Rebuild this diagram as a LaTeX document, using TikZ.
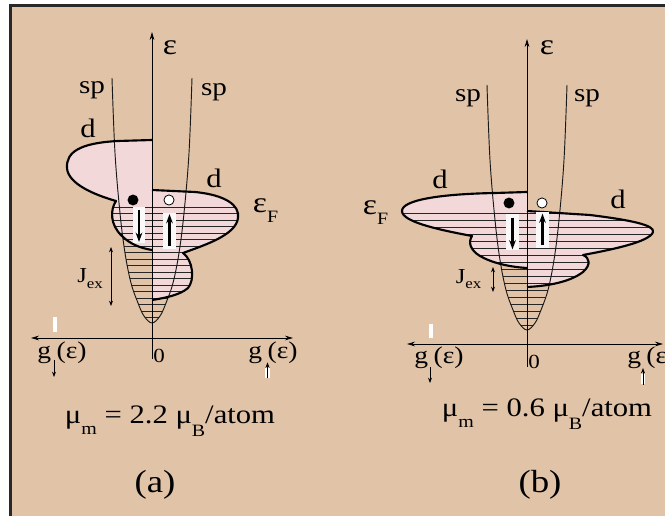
\documentclass[tikz,border=0pt]{standalone}
\usepackage{fontspec}
\setmainfont{Liberation Serif}[FakeStretch=1.15]
\usetikzlibrary{arrows.meta}
\definecolor{bgtan}{RGB}{225,195,168}
\definecolor{dpink}{RGB}{242,216,217}
\definecolor{framegray}{RGB}{40,40,40}

% sp band, relative to its bottom point
\newcommand{\spcurve}{plot[smooth, tension=0.6] coordinates {(-40,-245) (-37,-170) (-32,-110) (-27,-70) (-21,-40) (-14,-20) (-8,-7) (0,0) (8,-7) (14,-20) (21,-40) (27,-70) (32,-110) (37,-170) (40,-245)}}
% d bands: from the axis out and back to the axis
\newcommand{\dbandAdn}{(152,140) -- (118,141) .. controls (80,143) and (66,152) .. (67,168) .. controls (68,184) and (95,195) .. (116,201) .. controls (110,210) and (110,225) .. (122,236) .. controls (130,244) and (140,248) .. (152,250)}
\newcommand{\dbandAup}{(152,190) -- (195,192) .. controls (225,195) and (240,205) .. (238,218) .. controls (236,235) and (205,245) .. (183,253) .. controls (193,260) and (195,280) .. (188,288) .. controls (180,295) and (165,298) .. (152,300)}
\newcommand{\dbandBdn}{(527,192) -- (495,193) .. controls (440,194) and (402,200) .. (402,211) .. controls (402,222) and (440,230) .. (472,236) .. controls (468,242) and (470,250) .. (480,256) .. controls (492,263) and (510,267) .. (527,268)}
\newcommand{\dbandBup}{(527,211) -- (590,215) .. controls (630,220) and (655,225) .. (653,232) .. controls (650,242) and (610,250) .. (583,255) .. controls (590,258) and (591,265) .. (583,272) .. controls (570,282) and (548,286) .. (527,287)}

\begin{document}
\begin{tikzpicture}[x=0.75pt, y=-0.75pt,
    lbl/.style={inner sep=0pt, font=\fontsize{19}{19}\selectfont},
    band/.style={line width=1.6pt, line join=round},
    hatch/.style={line width=0.55pt, black!85},
    spline/.style={line width=0.7pt, black!90},
    axis/.style={line width=0.7pt, -{Stealth[length=6pt, width=3.5pt]}},
    gaxis/.style={line width=0.7pt, {Stealth[length=6pt, width=3.5pt]}-{Stealth[length=6pt, width=3.5pt]}},
    jarr/.style={line width=0.6pt, {Stealth[length=4pt, width=3pt]}-{Stealth[length=4pt, width=3pt]}},
    garr/.style={line width=0.6pt, -{Stealth[length=4pt, width=3pt]}},
    spin/.style={line width=1.6pt, -{Stealth[length=7pt, width=5pt]}, shorten <=2.5pt, shorten >=1pt},
    wbox/.style={fill=white!95!gray, inner sep=0pt, minimum width=9.5pt, minimum height=27pt},
    wmark/.style={fill=white, inner sep=0pt, minimum width=3pt, minimum height=11pt}]
  \useasboundingbox (0,0) rectangle (665,516);
  \clip (0,0) rectangle (665,516);
  \fill[white] (0,0) rectangle (665,516);
  \fill[bgtan] (10,5) rectangle (665,516);
  \draw[framegray, line width=2.25pt] (10.5,516) -- (10.5,5.5) -- (665,5.5);

  % (a) bands
  \fill[dpink] \dbandAdn -- cycle;
  \fill[dpink] \dbandAup -- cycle;
  \begin{scope}
    \clip \dbandAdn -- cycle;
    \foreach \y in {207,213.5,...,320} \draw[hatch] (40,\y) -- (260,\y);
  \end{scope}
  \begin{scope}
    \clip \dbandAup -- cycle;
    \foreach \y in {207,213.5,...,320} \draw[hatch] (40,\y) -- (260,\y);
  \end{scope}
  \begin{scope}[shift={(152,323)}]
    \begin{scope}
      \clip \spcurve -- cycle;
      \foreach \y in {-116,-109.5,...,-3} \draw[hatch] (-100,\y) -- (100,\y);
    \end{scope}
    \draw[spline] \spcurve;
  \end{scope}
  \draw[band] \dbandAdn;
  \draw[band] \dbandAup;

  % (b) bands
  \fill[dpink] \dbandBdn -- cycle;
  \fill[dpink] \dbandBup -- cycle;
  \begin{scope}
    \clip \dbandBdn -- cycle;
    \foreach \y in {213,220,...,327} \draw[hatch] (390,\y) -- (665,\y);
  \end{scope}
  \begin{scope}
    \clip \dbandBup -- cycle;
    \foreach \y in {213,220,...,327} \draw[hatch] (390,\y) -- (665,\y);
  \end{scope}
  \begin{scope}[shift={(527,330)}]
    \begin{scope}
      \clip \spcurve -- cycle;
      \foreach \y in {-117,-110,...,-3} \draw[hatch] (-100,\y) -- (100,\y);
    \end{scope}
    \draw[spline] \spcurve;
  \end{scope}
  \draw[band] \dbandBdn;
  \draw[band] \dbandBup;

  % axes
  \coordinate (aBot) at (152,359);
  \coordinate (aTop) at (152,32);
  \coordinate (aL) at (31,338);
  \coordinate (aR) at (293,338);
  \draw[axis] (aBot) -- (aTop);
  \draw[gaxis] (aL) -- (aR);
  \coordinate (bBot) at (527,367);
  \coordinate (bTop) at (527,39);
  \coordinate (bL) at (407,344);
  \coordinate (bR) at (663,344);
  \draw[axis] (bBot) -- (bTop);
  \draw[gaxis] (bL) -- (bR);

  % (a) spins
  \node[circle, fill=black, inner sep=0pt, minimum size=8.2pt] (aElec) at (133,200) {};
  \node[circle, draw, fill=white, line width=0.6pt, inner sep=0pt, minimum size=7.6pt] (aHole) at (169,200) {};
  \node[wbox] (aDnBox) at (139,225) {};
  \node[wbox] (aUpBox) at (169.5,231) {};
  \draw[spin] (aDnBox.north) -- (aDnBox.south);
  \draw[spin] (aUpBox.south) -- (aUpBox.north);
  \coordinate (aJtop) at (111,247);
  \coordinate (aJbot) at (111,306);
  \draw[jarr] (aJtop) -- (aJbot);

  % (b) spins
  \node[circle, fill=black, inner sep=0pt, minimum size=8.2pt] (bElec) at (509,203) {};
  \node[circle, draw, fill=white, line width=0.6pt, inner sep=0pt, minimum size=7.6pt] (bHole) at (542,203) {};
  \node[wbox] (bDnBox) at (512.5,232.5) {};
  \node[wbox] (bUpBox) at (542.5,230.5) {};
  \draw[spin] (bDnBox.north) -- (bDnBox.south);
  \draw[spin] (bUpBox.south) -- (bUpBox.north);
  \coordinate (bJtop) at (493,267);
  \coordinate (bJbot) at (493,292);
  \draw[jarr] (bJtop) -- (bJbot);

  % (a) labels
  \node[lbl, font=\fontsize{22}{22}\selectfont] (aEps) at (170,48) {ε};
  \node[lbl] (aSpL) at (92,90) {sp};
  \node[lbl] (aSpR) at (214,92) {sp};
  \node[lbl, font=\fontsize{20}{20}\selectfont] (aDL) at (88,128) {d};
  \node[lbl, font=\fontsize{20}{20}\selectfont] (aDR) at (214,178) {d};
  \node[lbl, font=\fontsize{22}{22}\selectfont] (aEF) at (265.5,210.5) {ε\raisebox{-7pt}{\fontsize{13}{13}\selectfont F}};
  \node[lbl, font=\fontsize{16}{16}\selectfont] (aJ) at (90,278.5) {J\raisebox{-4pt}{\fontsize{11}{11}\selectfont ex}};
  \node[lbl, font=\fontsize{15}{15}\selectfont] (aZero) at (159,356) {0};
  \node[wmark] (aMark) at (55,324.5) {};
  \node[lbl, font=\fontsize{18}{18}\selectfont] (aGdn) at (62,353) {g\hspace{4pt}(ε)};
  \node[lbl, font=\fontsize{18}{18}\selectfont] (aGup) at (273,353) {g\hspace{4pt}(ε)};
  \coordinate (aGdnS) at (54,360);
  \coordinate (aGdnE) at (54,377);
  \draw[garr] (aGdnS) -- (aGdnE);
  \node[fill=white, inner sep=0pt, minimum width=3.5pt, minimum height=7.5pt] (aGupBox) at (267.5,373) {};
  \draw[garr] (aGupBox.south) -- ([yshift=4pt]aGupBox.north);
  \node[lbl, anchor=base, font=\fontsize{20}{20}\selectfont] (aMu) at (170,424) {μ\raisebox{-8pt}{\fontsize{13}{13}\selectfont m} = 2.2 μ\raisebox{-9.5pt}{\fontsize{13}{13}\selectfont B}/atom};
  \node[lbl, font=\fontsize{24}{24}\selectfont] (aTag) at (155,485) {(a)};

  % (b) labels
  \node[lbl, font=\fontsize{22}{22}\selectfont] (bEps) at (547,48) {ε};
  \node[lbl] (bSpL) at (468,98) {sp};
  \node[lbl] (bSpR) at (587,98) {sp};
  \node[lbl, font=\fontsize{20}{20}\selectfont] (bDL) at (440,179) {d};
  \node[lbl, font=\fontsize{20}{20}\selectfont] (bDR) at (618,199) {d};
  \node[lbl, font=\fontsize{22}{22}\selectfont] (bEF) at (375.5,212.5) {ε\raisebox{-7pt}{\fontsize{13}{13}\selectfont F}};
  \node[lbl, font=\fontsize{16}{16}\selectfont] (bJ) at (468.5,279) {J\raisebox{-4pt}{\fontsize{11}{11}\selectfont ex}};
  \node[lbl, font=\fontsize{15}{15}\selectfont] (bZero) at (534,362) {0};
  \node[wmark] (bMark) at (430.5,331) {};
  \node[lbl, font=\fontsize{18}{18}\selectfont] (bGdn) at (439,358) {g\hspace{4pt}(ε)};
  \node[lbl, anchor=west, font=\fontsize{18}{18}\selectfont] (bGup) at (627,358) {g\hspace{4pt}(ε)};
  \coordinate (bGdnS) at (430,367);
  \coordinate (bGdnE) at (430,383);
  \draw[garr] (bGdnS) -- (bGdnE);
  \node[fill=white, inner sep=0pt, minimum width=3.5pt, minimum height=8pt] (bGupBox) at (643,379) {};
  \draw[garr] (bGupBox.south) -- ([yshift=4pt]bGupBox.north);
  \node[lbl, anchor=base, font=\fontsize{20}{20}\selectfont] (bMu) at (547,417) {μ\raisebox{-8pt}{\fontsize{13}{13}\selectfont m} = 0.6 μ\raisebox{-9.5pt}{\fontsize{13}{13}\selectfont B}/atom};
  \node[lbl, font=\fontsize{24}{24}\selectfont] (bTag) at (540,485) {(b)};
\end{tikzpicture}
\end{document}
